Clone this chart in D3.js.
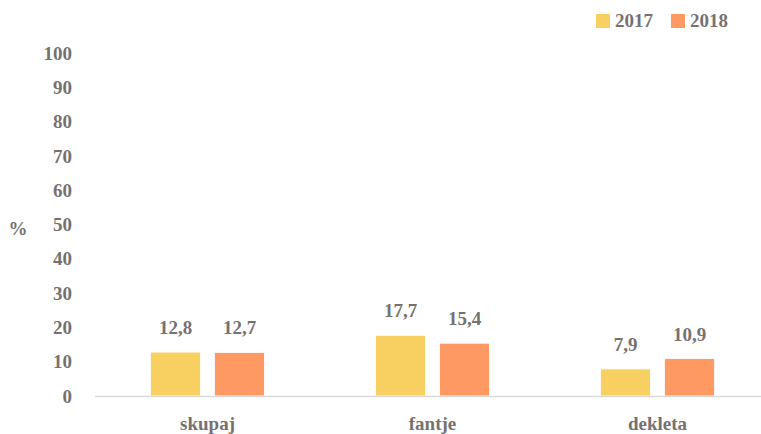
<!DOCTYPE html>
<html>
<head>
<meta charset="utf-8">
<script src="https://cdn.jsdelivr.net/npm/d3@7"></script>
<style>
  body { margin: 0; background: #fff; }
  svg text { font-family: 'Liberation Serif', 'Times New Roman', serif; font-weight: bold; fill: #767171; }
</style>
</head>
<body>
<div id="chart"></div>
<script>
// podatki
var categories = ["skupaj", "fantje", "dekleta"];
var years = ["2017", "2018"];
var values2017 = [12.8, 17.7, 7.9];
var values2018 = [12.7, 15.4, 10.9];
var yTicks = [0, 10, 20, 30, 40, 50, 60, 70, 80, 90, 100];
var colors = ["#F8D062", "#FE9963"];

var W = 761, H = 434;
var margin = { top: 53, right: -9, bottom: 38, left: 95 };

var data = categories.map(function(c, i) {
  return { cat: c, vals: [values2017[i], values2018[i]] };
});

var svg = d3.select("#chart").append("svg")
  .attr("width", W)
  .attr("height", H)
  .attr("font-family", "'Liberation Serif', serif");

var x = d3.scaleBand()
  .domain(categories)
  .range([margin.left, W - margin.right])
  .paddingInner(0).paddingOuter(0);

var y = d3.scaleLinear()
  .domain([0, 100])
  .range([H - margin.bottom, margin.top]);

var barW = 50, gap = 14;
var x1 = d3.scaleBand().domain(years)
  .range([0, barW * 2 + gap]).paddingInner(gap / (barW + gap));

// os y - samo oznake
svg.append("g").selectAll("text")
  .data(yTicks)
  .join("text")
  .attr("x", 72)
  .attr("y", d => y(d))
  .attr("dy", "0.35em")
  .attr("text-anchor", "end")
  .attr("font-size", 19)
  .text(d => d);

svg.append("text")
  .attr("x", 18)
  .attr("y", 228)
  .attr("dy", "0.35em")
  .attr("text-anchor", "middle")
  .attr("font-size", 19)
  .text("%");

// stolpci
var groups = svg.append("g").selectAll("g")
  .data(data)
  .join("g")
  .attr("transform", d => "translate(" + (x(d.cat) + x.bandwidth() / 2 - (barW + gap / 2)) + ",0)");

groups.selectAll("rect")
  .data(d => d.vals.map((v, i) => ({ year: years[i], v: v, i: i })))
  .join("rect")
  .attr("x", d => x1(d.year))
  .attr("width", x1.bandwidth())
  .attr("y", d => y(d.v))
  .attr("height", d => y(0) - y(d.v))
  .attr("fill", d => colors[d.i])
  .attr("stroke", "#fff")
  .attr("stroke-width", 0.8);

groups.selectAll("text.val")
  .data(d => d.vals.map((v, i) => ({ year: years[i], v: v })))
  .join("text")
  .attr("class", "val")
  .attr("x", d => x1(d.year) + x1.bandwidth() / 2)
  .attr("y", d => y(d.v) - 18)
  .attr("text-anchor", "middle")
  .attr("font-size", 19)
  .text(d => d.v.toFixed(1).replace(".", ","));

// os x
svg.append("line")
  .attr("x1", margin.left).attr("x2", W)
  .attr("y1", y(0) + 0.5).attr("y2", y(0) + 0.5)
  .attr("stroke", "#D9D9D9")
  .attr("stroke-width", 1.5);

svg.append("g").selectAll("text")
  .data(categories)
  .join("text")
  .attr("x", d => x(d) + x.bandwidth() / 2)
  .attr("y", 430)
  .attr("text-anchor", "middle")
  .attr("font-size", 19)
  .text(d => d);

// legenda
var legend = svg.append("g").attr("transform", "translate(596,14)");
var li = legend.selectAll("g")
  .data(years)
  .join("g")
  .attr("transform", (d, i) => "translate(" + (i * 75) + ",0)");
li.append("rect")
  .attr("width", 14).attr("height", 14)
  .attr("fill", (d, i) => colors[i]);
li.append("text")
  .attr("x", 19).attr("y", 13)
  .attr("font-size", 19)
  .text(d => d);
</script>
</body>
</html>
